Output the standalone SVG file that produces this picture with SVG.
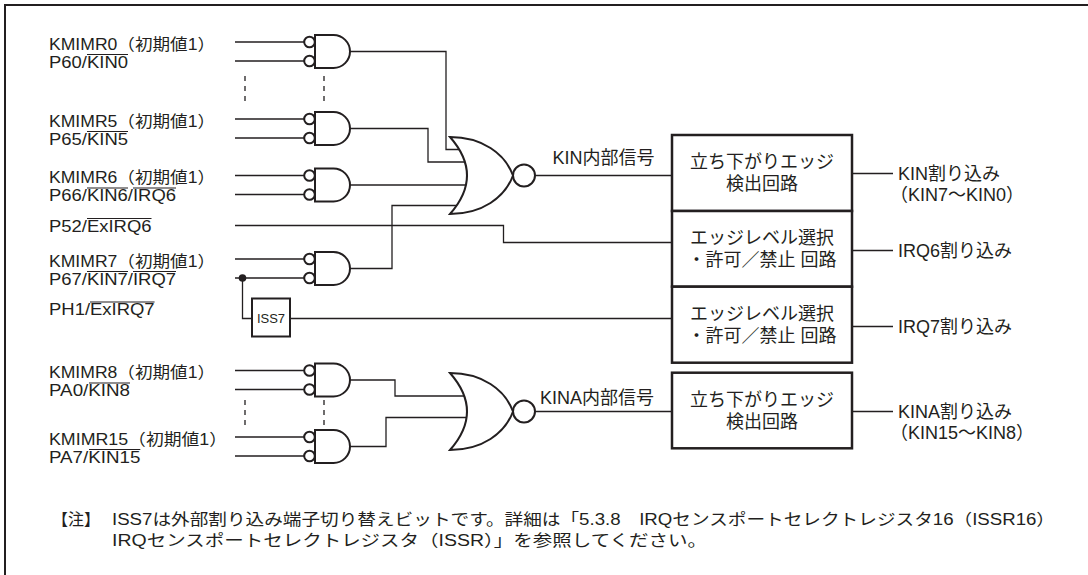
<svg xmlns="http://www.w3.org/2000/svg" xmlns:xlink="http://www.w3.org/1999/xlink" width="1088" height="575" viewBox="0 0 1088 575">
<style>
  .wire{fill:none;stroke:#231f20;stroke-width:1.3}
  .ovl{fill:none;stroke:#231f20;stroke-width:1.1}
  .dash{fill:none;stroke:#231f20;stroke-width:1.3;stroke-dasharray:5 5}
  .gate{fill:#fff;stroke:#231f20;stroke-width:2}
  .box{fill:#fff;stroke:#231f20;stroke-width:2.5}
  .frame{fill:none;stroke:#231f20;stroke-width:2}
  text{font-family:'Liberation Sans','Noto Sans CJK JP',sans-serif;fill:#231f20}
  .lbl{font-size:16px}
  .big{font-size:18px}
  .mid{text-anchor:middle}
  .small{font-size:13px}
  .note{font-size:16px}
</style>
<defs>
  <g id="andGate">
    <path d="M315,-16.5 H333.5 A16.5,16.5 0 0 1 333.5,16.5 H315 Z" class="gate"/>
    <circle cx="309.5" cy="-9.5" r="5.3" class="gate"/>
    <circle cx="309.5" cy="9.5" r="5.3" class="gate"/>
  </g>
  <g id="norGate">
    <path d="M450,-38.5 C482,-38.5 505,-22 513,0 C505,22 482,38.5 450,38.5 Q484,0 450,-38.5 Z" class="gate"/>
    <circle cx="524" cy="0" r="11" class="gate"/>
  </g>
</defs>

<path class="frame" d="M5,575 V5 H1088"/>

<g id="connectors">
  <path class="wire" d="M235,42H304M235,61H304M235,119H304M235,138H304M235,175.5H304M235,194.5H304M235,259H304M235,278H304M235,370.5H304M235,389.5H304M235,437H304M235,456H304"/>
  <path class="wire" d="M350,51.5H446V149.5H470"/>
  <path class="wire" d="M350,128.5H428V162H470"/>
  <path class="wire" d="M350,185H470"/>
  <path class="wire" d="M350,268.5H392V205.5H470"/>
  <path class="wire" d="M235,225.5H503.5V242.5H672"/>
  <path class="wire" d="M242.5,278V318.5H252"/>
  <path class="wire" d="M290,318.5H672"/>
  <path class="wire" d="M350,380H395V396H470"/>
  <path class="wire" d="M350,446.5H386V417.5H470"/>
  <path class="wire" d="M535,175.5H672"/>
  <path class="wire" d="M535,411.5H672"/>
  <path class="wire" d="M852,173.5H893M852,250.5H893M852,326.5H893M852,411.5H893"/>
  <circle id="junction" cx="242.5" cy="278" r="3.8" fill="#231f20"/>
</g>

<g id="ellipsis">
  <path class="dash" d="M245,76V102M324,76V102M245,400V426M324,400V426"/>
</g>

<g id="in-kin0">
  <text class="lbl" x="49" y="49.5" textLength="166" lengthAdjust="spacingAndGlyphs">KMIMR0（初期値1）</text>
  <text class="lbl" x="49" y="67.5" textLength="79" lengthAdjust="spacingAndGlyphs">P60/KIN0</text>
  <path class="ovl" d="M87,54.5H128"/>
</g>
<g id="in-kin5">
  <text class="lbl" x="49" y="126.5" textLength="166" lengthAdjust="spacingAndGlyphs">KMIMR5（初期値1）</text>
  <text class="lbl" x="49" y="144.5" textLength="79" lengthAdjust="spacingAndGlyphs">P65/KIN5</text>
  <path class="ovl" d="M87,131.5H128"/>
</g>
<g id="in-kin6">
  <text class="lbl" x="49" y="183" textLength="166" lengthAdjust="spacingAndGlyphs">KMIMR6（初期値1）</text>
  <text class="lbl" x="49" y="201" textLength="127" lengthAdjust="spacingAndGlyphs">P66/KIN6/IRQ6</text>
  <path class="ovl" d="M87,188H128M133,188H176"/>
</g>
<g id="in-exirq6">
  <text class="lbl" x="49" y="231.5" textLength="102.5" lengthAdjust="spacingAndGlyphs">P52/ExIRQ6</text>
  <path class="ovl" d="M87,218.5H151.5"/>
</g>
<g id="in-kin7">
  <text class="lbl" x="49" y="266.5" textLength="166" lengthAdjust="spacingAndGlyphs">KMIMR7（初期値1）</text>
  <text class="lbl" x="49" y="284.5" textLength="127" lengthAdjust="spacingAndGlyphs">P67/KIN7/IRQ7</text>
  <path class="ovl" d="M87,271.5H128M133,271.5H176"/>
</g>
<g id="in-exirq7">
  <text class="lbl" x="49" y="315" textLength="105.6" lengthAdjust="spacingAndGlyphs">PH1/ExIRQ7</text>
  <path class="ovl" d="M90,302H154.6"/>
</g>
<g id="in-kin8">
  <text class="lbl" x="49" y="378" textLength="166" lengthAdjust="spacingAndGlyphs">KMIMR8（初期値1）</text>
  <text class="lbl" x="49" y="396" textLength="81" lengthAdjust="spacingAndGlyphs">PA0/KIN8</text>
  <path class="ovl" d="M89,383H130"/>
</g>
<g id="in-kin15">
  <text class="lbl" x="49" y="444.5" textLength="178" lengthAdjust="spacingAndGlyphs">KMIMR15（初期値1）</text>
  <text class="lbl" x="49" y="462.5" textLength="91.3" lengthAdjust="spacingAndGlyphs">PA7/KIN15</text>
  <path class="ovl" d="M89,449.5H140.3"/>
</g>

<g id="and0"><use xlink:href="#andGate" href="#andGate" y="51.5"/></g>
<g id="and5"><use xlink:href="#andGate" href="#andGate" y="128.5"/></g>
<g id="and6"><use xlink:href="#andGate" href="#andGate" y="185"/></g>
<g id="and7"><use xlink:href="#andGate" href="#andGate" y="268.5"/></g>
<g id="and8"><use xlink:href="#andGate" href="#andGate" y="380"/></g>
<g id="and15"><use xlink:href="#andGate" href="#andGate" y="446.5"/></g>

<g id="nor-kin">
  <use xlink:href="#norGate" href="#norGate" y="175.5"/>
  <text class="big" x="552.5" y="164">KIN内部信号</text>
</g>
<g id="nor-kina">
  <use xlink:href="#norGate" href="#norGate" y="411.5"/>
  <text class="big" x="540" y="403.5">KINA内部信号</text>
</g>

<g id="iss7">
  <rect class="box" x="252" y="298.5" width="38" height="38" style="stroke-width:2"/>
  <text class="small mid" x="271" y="323">ISS7</text>
</g>

<g id="box-kin">
  <rect class="box" x="672" y="135" width="180" height="76"/>
  <text class="big mid" x="762" y="168">立ち下がりエッジ</text>
  <text class="big mid" x="762" y="190">検出回路</text>
</g>
<g id="box-irq6">
  <rect class="box" x="672" y="211" width="180" height="75.7"/>
  <text class="big mid" x="762" y="244">エッジレベル選択</text>
  <text class="big mid" x="762" y="266">・許可／禁止 回路</text>
</g>
<g id="box-irq7">
  <rect class="box" x="672" y="286.7" width="180" height="76"/>
  <text class="big mid" x="762" y="320">エッジレベル選択</text>
  <text class="big mid" x="762" y="342">・許可／禁止 回路</text>
</g>
<g id="box-kina">
  <rect class="box" x="672" y="372.7" width="180" height="75.6"/>
  <text class="big mid" x="762" y="405.5">立ち下がりエッジ</text>
  <text class="big mid" x="762" y="427.5">検出回路</text>
</g>

<g id="out-kin">
  <text class="big" x="898" y="180">KIN割り込み</text>
  <text class="big" x="890" y="201">（KIN7〜KIN0）</text>
</g>
<g id="out-irq6"><text class="big" x="898" y="257">IRQ6割り込み</text></g>
<g id="out-irq7"><text class="big" x="898" y="333">IRQ7割り込み</text></g>
<g id="out-kina">
  <text class="big" x="898" y="418">KINA割り込み</text>
  <text class="big" x="890" y="439">（KIN15〜KIN8）</text>
</g>

<g id="note">
  <text class="note" x="52" y="525" textLength="48" lengthAdjust="spacingAndGlyphs">【注】</text>
  <text class="note" x="112" y="525" textLength="943" lengthAdjust="spacingAndGlyphs">ISS7は外部割り込み端子切り替えビットです。詳細は「5.3.8　IRQセンスポートセレクトレジスタ16（ISSR16）</text>
  <text class="note" x="112" y="546" textLength="595" lengthAdjust="spacingAndGlyphs">IRQセンスポートセレクトレジスタ（ISSR）」を参照してください。</text>
</g>
</svg>
